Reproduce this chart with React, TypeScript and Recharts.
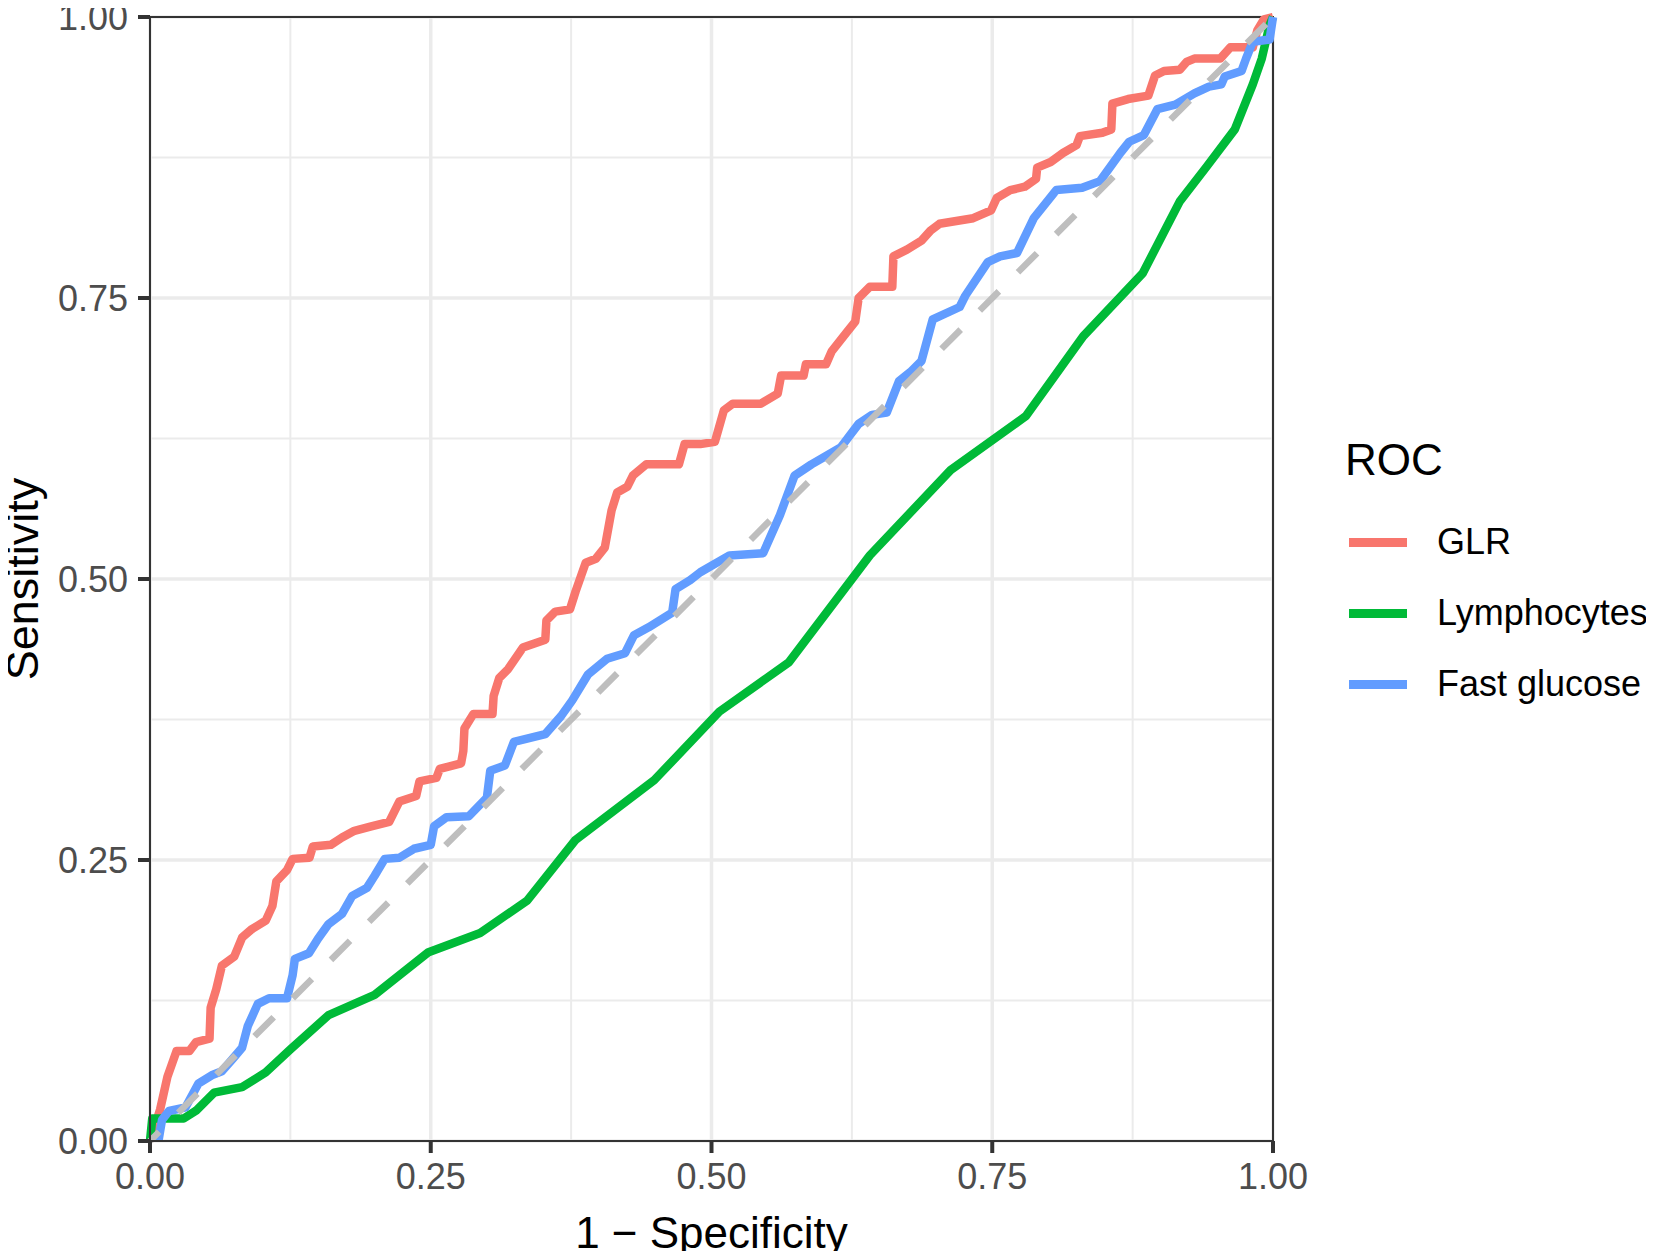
import React from "react"
import {
  LineChart,
  Line,
  XAxis,
  YAxis,
  CartesianGrid,
  Legend,
  ReferenceArea,
} from "recharts"

const FONT = '"Liberation Sans", Arial, sans-serif'

// ROC curves (1 - specificity, sensitivity)
const glrFpr = [
  0, 0.009, 0.0155, 0.0236, 0.035, 0.041, 0.053, 0.054, 0.059, 0.064, 0.075, 0.082, 0.09, 0.103,
  0.109, 0.1125, 0.122, 0.127, 0.142, 0.145, 0.161, 0.171, 0.182, 0.197, 0.213, 0.222, 0.237,
  0.24, 0.255, 0.258, 0.277, 0.279, 0.28, 0.288, 0.305, 0.306, 0.311, 0.319, 0.332, 0.352, 0.353,
  0.361, 0.374, 0.379, 0.388, 0.397, 0.405, 0.411, 0.416, 0.425, 0.43, 0.442, 0.471, 0.476, 0.49,
  0.503, 0.511, 0.519, 0.544, 0.559, 0.562, 0.582, 0.584, 0.602, 0.607, 0.62, 0.628, 0.631, 0.641,
  0.661, 0.662, 0.674, 0.687, 0.695, 0.703, 0.733, 0.749, 0.754, 0.766, 0.779, 0.789, 0.79, 0.802,
  0.813, 0.825, 0.828, 0.848, 0.856, 0.857, 0.871, 0.889, 0.895, 0.903, 0.917, 0.923, 0.93, 0.953,
  0.962, 0.982, 0.986, 0.992, 1,
]
const glrTpr = [
  0, 0.028, 0.057, 0.08, 0.08, 0.088, 0.091, 0.1185, 0.135, 0.156, 0.164, 0.181, 0.188, 0.196,
  0.209, 0.231, 0.241, 0.251, 0.252, 0.262, 0.2635, 0.27, 0.276, 0.28, 0.284, 0.302, 0.307,
  0.32, 0.323, 0.331, 0.336, 0.347, 0.367, 0.38, 0.38, 0.396, 0.412, 0.42, 0.439, 0.446, 0.463,
  0.471, 0.473, 0.489, 0.5145, 0.518, 0.528, 0.561, 0.577, 0.582, 0.592, 0.602, 0.602, 0.62, 0.62,
  0.622, 0.65, 0.656, 0.656, 0.665, 0.681, 0.681, 0.691, 0.691, 0.7025, 0.719, 0.729, 0.75, 0.76,
  0.76, 0.787, 0.793, 0.801, 0.81, 0.816, 0.821, 0.828, 0.839, 0.846, 0.849, 0.856, 0.866, 0.871,
  0.879, 0.886, 0.894, 0.897, 0.9, 0.923, 0.927, 0.93, 0.948, 0.952, 0.953, 0.96, 0.963, 0.963,
  0.973, 0.973, 0.988, 0.998, 1,
]

const lymFpr = [
  0, 0.002, 0.03, 0.041, 0.057, 0.082, 0.103, 0.125, 0.159, 0.2, 0.248, 0.294, 0.336, 0.379,
  0.449, 0.507, 0.569, 0.641, 0.713, 0.78, 0.831, 0.884, 0.917, 0.941, 0.966, 0.982, 0.99, 0.997, 1,
]
const lymTpr = [
  0, 0.02, 0.02, 0.027, 0.043, 0.048, 0.061, 0.0815, 0.112, 0.13, 0.168, 0.185, 0.214, 0.268,
  0.321, 0.382, 0.426, 0.521, 0.597, 0.645, 0.716, 0.772, 0.836, 0.867, 0.9, 0.94, 0.963, 0.993, 1,
]

const gluFpr = [
  0.0075, 0.0107, 0.017, 0.0317, 0.043, 0.056, 0.064, 0.074, 0.082, 0.087, 0.096, 0.106, 0.122,
  0.127, 0.129, 0.1415, 0.1496, 0.159, 0.171, 0.18, 0.193, 0.2, 0.209, 0.222, 0.235, 0.25, 0.253,
  0.264, 0.284, 0.3, 0.303, 0.316, 0.324, 0.352, 0.366, 0.376, 0.39, 0.407, 0.423, 0.431, 0.444,
  0.465, 0.468, 0.481, 0.49, 0.516, 0.546, 0.561, 0.574, 0.589, 0.615, 0.631, 0.643, 0.656, 0.667,
  0.677, 0.687, 0.697, 0.721, 0.726, 0.746, 0.757, 0.772, 0.787, 0.807, 0.83, 0.846, 0.864, 0.872,
  0.885, 0.897, 0.913, 0.93, 0.943, 0.954, 0.957, 0.972, 0.976, 0.982, 0.997, 1,
]
const gluTpr = [
  0, 0.0187, 0.0267, 0.03, 0.051, 0.059, 0.062, 0.0735, 0.083, 0.102, 0.122, 0.127, 0.127,
  0.1475, 0.162, 0.167, 0.18, 0.193, 0.202, 0.218, 0.225, 0.236, 0.251, 0.252, 0.26, 0.2635, 0.28,
  0.288, 0.289, 0.3055, 0.3295, 0.334, 0.355, 0.362, 0.378, 0.392, 0.415, 0.429, 0.434, 0.45, 0.457,
  0.47, 0.491, 0.499, 0.506, 0.521, 0.523, 0.557, 0.592, 0.602, 0.617, 0.638, 0.646, 0.648, 0.676,
  0.684, 0.694, 0.731, 0.742, 0.752, 0.782, 0.787, 0.79, 0.821, 0.846, 0.848, 0.854, 0.879, 0.889,
  0.895, 0.918, 0.922, 0.932, 0.938, 0.94, 0.947, 0.952, 0.963, 0.978, 0.98, 1,
]

const chanceFpr = [0, 1]
const chanceTpr = [0, 1]

const majorTicks = [0, 0.25, 0.5, 0.75, 1]
const minorTicks = [0.125, 0.375, 0.625, 0.875]

const toPoints = (xs: number[], ys: number[]) => xs.map((x, i) => ({ x, y: ys[i] }))

const series = [
  { name: "GLR", color: "#F8766D", data: toPoints(glrFpr, glrTpr) },
  { name: "Lymphocytes", color: "#00BA38", data: toPoints(lymFpr, lymTpr) },
  { name: "Fast glucose", color: "#619CFF", data: toPoints(gluFpr, gluTpr) },
]
const seriesOrder = series.map((s) => s.name)

const fmt = (v: number) => v.toFixed(2)

const renderLegend = (props: any) => {
  const items = (props.payload || [])
    .filter((p: any) => seriesOrder.includes(p.value))
    .sort((a: any, b: any) => seriesOrder.indexOf(a.value) - seriesOrder.indexOf(b.value))
  return (
    <div style={{ fontFamily: FONT, color: "#000" }}>
      <div style={{ fontSize: 44, height: 70, lineHeight: "70px" }}>ROC</div>
      <div style={{ marginTop: 11.5 }}>
        {items.map((item: any) => (
          <div key={item.value} style={{ display: "flex", alignItems: "center", height: 71 }}>
            <span
              style={{
                display: "inline-block",
                width: 58,
                height: 9,
                background: item.color,
                marginLeft: 4,
                marginRight: 30,
              }}
            />
            <span style={{ fontSize: 36, whiteSpace: "nowrap" }}>{item.value}</span>
          </div>
        ))}
      </div>
    </div>
  )
}

const XTitle = ({ viewBox }: any) => (
  <text
    x={viewBox.x + viewBox.width / 2}
    y={1248}
    textAnchor="middle"
    fontFamily={FONT}
    fontSize={44}
    fill="#000"
  >
    1 − Specificity
  </text>
)

const YTitle = ({ viewBox }: any) => (
  <text
    transform={`translate(38, ${viewBox.y + viewBox.height / 2}) rotate(-90)`}
    textAnchor="middle"
    fontFamily={FONT}
    fontSize={45}
    fill="#000"
  >
    Sensitivity
  </text>
)

const tickStyle = { fill: "#4D4D4D", fontSize: 36, fontFamily: FONT }

export default function App() {
  return (
    <div style={{ margin: -8, width: 1654, height: 1259, overflow: "hidden", background: "#fff" }}>
      <LineChart width={1654} height={1259} margin={{ top: 17, right: 381, left: 0, bottom: 0 }}>
        <CartesianGrid
          stroke="#EBEBEB"
          strokeWidth={2}
          horizontalValues={minorTicks}
          verticalValues={minorTicks}
        />
        <CartesianGrid stroke="#EBEBEB" strokeWidth={3.5} />
        <XAxis
          type="number"
          dataKey="x"
          domain={[0, 1]}
          ticks={majorTicks}
          interval={0}
          tickFormatter={fmt}
          tick={tickStyle}
          tickSize={12}
          tickMargin={10}
          tickLine={{ stroke: "#333333", strokeWidth: 4 }}
          axisLine={{ stroke: "#333333", strokeWidth: 2 }}
          height={118}
          label={<XTitle />}
        />
        <YAxis
          type="number"
          dataKey="y"
          domain={[0, 1]}
          ticks={majorTicks}
          interval={0}
          tickFormatter={fmt}
          tick={tickStyle}
          tickSize={12}
          tickMargin={10}
          tickLine={{ stroke: "#333333", strokeWidth: 4 }}
          axisLine={{ stroke: "#333333", strokeWidth: 2 }}
          width={150}
          label={<YTitle />}
        />
        {series.map((s) => (
          <Line
            key={s.name}
            data={s.data}
            dataKey="y"
            name={s.name}
            type="linear"
            stroke={s.color}
            strokeWidth={8.5}
            strokeLinejoin="round"
            dot={false}
            activeDot={false}
            isAnimationActive={false}
          />
        ))}
        <Line
          data={toPoints(chanceFpr, chanceTpr)}
          dataKey="y"
          name="chance"
          type="linear"
          stroke="#BEBEBE"
          strokeWidth={6.5}
          strokeDasharray="27 27"
          strokeDashoffset={14}
          dot={false}
          activeDot={false}
          legendType="none"
          isAnimationActive={false}
        />
        <ReferenceArea
          x1={0}
          x2={1}
          y1={0}
          y2={1}
          fill="none"
          fillOpacity={0}
          stroke="#333333"
          strokeWidth={2}
          ifOverflow="visible"
        />
        <Legend
          layout="vertical"
          align="center"
          verticalAlign="middle"
          wrapperStyle={{ left: 1345, top: 425, width: 305 }}
          content={renderLegend}
        />
      </LineChart>
    </div>
  )
}
